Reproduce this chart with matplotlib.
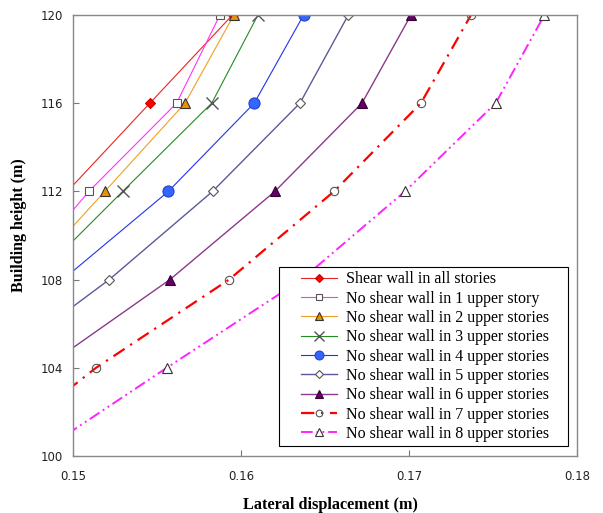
import matplotlib
matplotlib.use("Agg")
import matplotlib.pyplot as plt
from matplotlib.patches import Rectangle

# storey heights (m) where displacements were sampled
heights = [96, 100, 104, 108, 112, 116, 120]

# lateral displacement (m) per wall configuration, same order as heights
disp_all = [0.1300, 0.1349, 0.1398, 0.14475, 0.14967, 0.15458, 0.15950]
disp_1 = [0.1330, 0.1375, 0.1420, 0.14650, 0.15095, 0.15617, 0.15875]
disp_2 = [0.1327, 0.1375, 0.1423, 0.14710, 0.15190, 0.15667, 0.15958]
disp_3 = [0.1321, 0.1373, 0.1425, 0.14770, 0.15296, 0.15826, 0.16101]
disp_4 = [0.1334, 0.1389, 0.1444, 0.14940, 0.15568, 0.16079, 0.16373]
disp_5 = [0.1340, 0.1395, 0.1451, 0.15216, 0.15831, 0.16351, 0.16639]
disp_6 = [0.1369, 0.1426, 0.1483, 0.15577, 0.16202, 0.16720, 0.17012]
disp_7 = [0.1380, 0.1447, 0.15137, 0.15929, 0.16554, 0.17071, 0.17369]
disp_8 = [0.1397, 0.1477, 0.15558, 0.16360, 0.16976, 0.17516, 0.17806]

labels = ["Shear wall in all stories",
          "No shear wall in 1 upper story",
          "No shear wall in 2 upper stories",
          "No shear wall in 3 upper stories",
          "No shear wall in 4 upper stories",
          "No shear wall in 5 upper stories",
          "No shear wall in 6 upper stories",
          "No shear wall in 7 upper stories",
          "No shear wall in 8 upper stories"]

series = [disp_all, disp_1, disp_2, disp_3, disp_4, disp_5, disp_6, disp_7, disp_8]

styles = [
    dict(color="#ee2222", marker="D", ms=5, mfc="#ff0000", mec="#cc0000", lw=0.8, ls="-"),
    dict(color="#ff33ff", marker="s", ms=6, mfc="white", mec="#555555", lw=0.8, ls="-"),
    dict(color="#f0a020", marker="^", ms=7, mfc="#f09000", mec="#333333", lw=0.8, ls="-"),
    dict(color="#228b22", marker="x", ms=9, mfc="none", mec="#555555", lw=0.8, ls="-", mew=1.0),
    dict(color="#2233ee", marker="o", ms=8, mfc="#3366ff", mec="#2244cc", lw=0.8, ls="-"),
    dict(color="#5a5a9a", marker="D", ms=5.5, mfc="white", mec="#555555", lw=1.0, ls="-"),
    dict(color="#8a3a8a", marker="^", ms=7, mfc="#660066", mec="#330033", lw=1.0, ls="-"),
    dict(color="#ff0000", marker="o", ms=6, mfc="none", mec="#555555", lw=1.6, ls=(0, (6, 3, 1, 3))),
    dict(color="#ff22ff", marker="^", ms=7, mfc="white", mec="#333333", lw=1.4, ls=(0, (6, 2, 1, 2, 1, 2))),
]

plt.rcParams['font.family'] = ['Liberation Serif', 'DejaVu Serif']

fig = plt.figure(figsize=(6.03, 5.13), dpi=100)
ax = fig.add_axes([0.121, 0.111, 0.836, 0.860])

for vals, lab, st in zip(series, labels, styles):
    ax.plot(vals, heights, label=lab, color=st["color"], lw=st["lw"], ls=st["ls"],
            marker=st["marker"], ms=st["ms"], mfc=st["mfc"], mec=st["mec"],
            mew=st.get("mew", 0.8))

ax.set_xlim(0.15, 0.18)
ax.set_ylim(100, 120)
ax.set_xticks([0.15, 0.16, 0.17, 0.18])
ax.set_xticklabels(["0.15", "0.16", "0.17", "0.18"])
ax.set_yticks([100, 104, 108, 112, 116, 120])
ax.tick_params(direction="in", length=4, color="#777777", labelsize=8.5)
ax.tick_params(axis="x", pad=10)
ax.tick_params(axis="y", pad=7)
for lbl in ax.get_xticklabels() + ax.get_yticklabels():
    lbl.set_family("DejaVu Sans")
    lbl.set_color("#222222")
for sp in ax.spines.values():
    sp.set_color("#888888")
    sp.set_linewidth(1.0)

ax.set_xlabel("Lateral displacement (m)", fontsize=11.7, fontweight="bold")
ax.set_ylabel("Building height (m)", fontsize=11.5, fontweight="bold")
ax.xaxis.set_label_coords(0.511, -0.093)
ax.yaxis.set_label_coords(-0.091, 0.524)

# legend box is drawn separately so the side padding can be wider than top/bottom
box = Rectangle((0.409, 0.0227), 0.573, 0.406, transform=ax.transAxes,
                facecolor="white", edgecolor="black", lw=0.8, zorder=4)
ax.add_patch(box)
leg = ax.legend(loc="upper left", bbox_to_anchor=(0.452, 0.419), borderaxespad=0,
                fontsize=11.5, frameon=False, handlelength=2.25, labelspacing=0.21,
                borderpad=0, handletextpad=0.56, markerscale=0.8)
leg.set_zorder(5)

fig.savefig("out.png", dpi=100)
